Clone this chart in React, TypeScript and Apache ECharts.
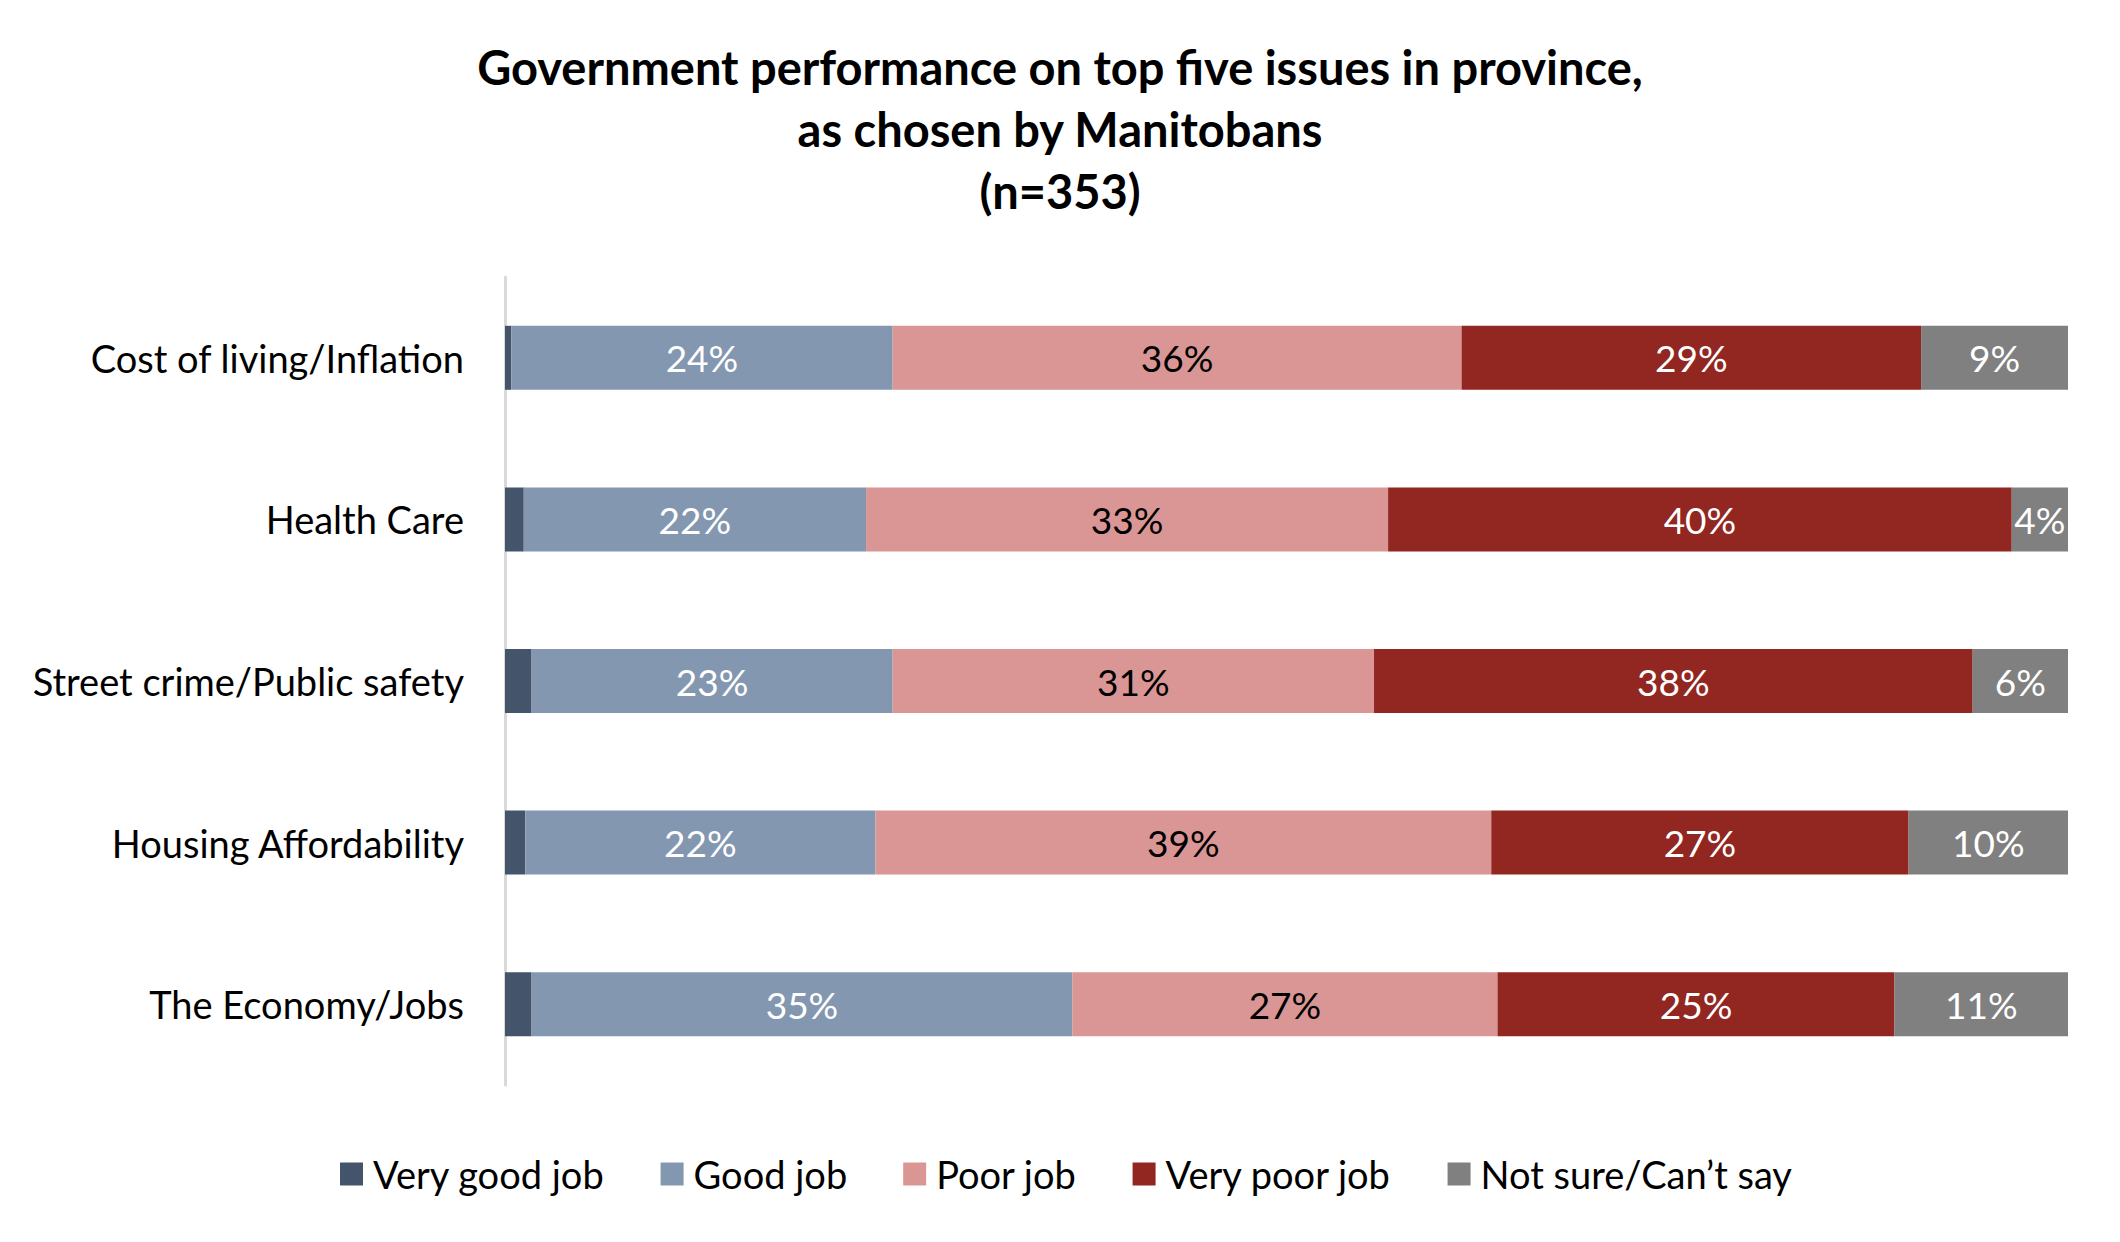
import React, { useEffect, useRef } from "react";
import * as echarts from "echarts";

const categories = [
  "Cost of living/Inflation",
  "Health Care",
  "Street crime/Public safety",
  "Housing Affordability",
  "The Economy/Jobs",
];
const seriesNames = ["Very good job", "Good job", "Poor job", "Very poor job", "Not sure/Can\u2019t say"];
const veryGood = [0.4, 1.2, 1.7, 1.3, 1.7];
const good = [24.4, 21.9, 23.1, 22.4, 34.6];
const poor = [36.4, 33.4, 30.8, 39.4, 27.2];
const veryPoor = [29.4, 39.9, 38.3, 26.7, 25.4];
const notSure = [9.4, 3.6, 6.1, 10.2, 11.1];

const colors = ["#44546A", "#8497B0", "#DA9694", "#922621", "#808080"];
const labelColors = ["#FFFFFF", "#FFFFFF", "#000000", "#FFFFFF", "#FFFFFF"];
const showLabels = [false, true, true, true, true];

const FONT = "Lato";

export default function App() {
  const ref = useRef<HTMLDivElement>(null);
  useEffect(() => {
    if (!ref.current) return;
    const chart = echarts.init(ref.current, null, { renderer: "svg" });
    const data = [veryGood, good, poor, veryPoor, notSure];
    chart.setOption({
      animation: false,
      backgroundColor: "#FFFFFF",
      title: {
        text: "Government performance on top five issues in province,\nas chosen by Manitobans\n(n=353)",
        left: "center",
        top: 36,
        padding: 0,
        textStyle: {
          fontFamily: FONT,
          fontWeight: "bold",
          fontSize: 47,
          lineHeight: 62,
          color: "#000000",
        },
      },
      legend: {
        left: 340,
        top: 1155,
        padding: 0,
        icon: "rect",
        itemWidth: 23,
        itemHeight: 23,
        itemGap: 56,
        selectedMode: false,
        textStyle: {
          fontFamily: FONT,
          fontSize: 38,
          color: "#000000",
          padding: [0, 0, 0, 5],
        },
        data: seriesNames,
      },
      grid: { left: 505, right: 52, top: 277, bottom: 157, containLabel: false },
      xAxis: {
        type: "value",
        min: 0,
        max: 100,
        show: false,
      },
      yAxis: {
        type: "category",
        inverse: true,
        data: categories,
        axisLine: { show: true, lineStyle: { color: "#D9D9D9", width: 3 } },
        axisTick: { show: false },
        axisLabel: {
          margin: 41,
          fontFamily: FONT,
          fontSize: 38,
          color: "#000000",
        },
      },
      series: seriesNames.map((name, i) => ({
        name,
        type: "bar",
        stack: "total",
        barWidth: 64,
        data: data[i],
        itemStyle: { color: colors[i] },
        emphasis: { disabled: true },
        label: {
          show: showLabels[i],
          position: "inside",
          fontFamily: FONT,
          fontSize: 37,
          color: labelColors[i],
          formatter: (p: any) => Math.round(p.value) + "%",
        },
      })),
    });
    return () => chart.dispose();
  }, []);
  return (
    <div
      ref={ref}
      style={{ position: "fixed", left: 0, top: 0, width: "2120px", height: "1242px" }}
    />
  );
}
